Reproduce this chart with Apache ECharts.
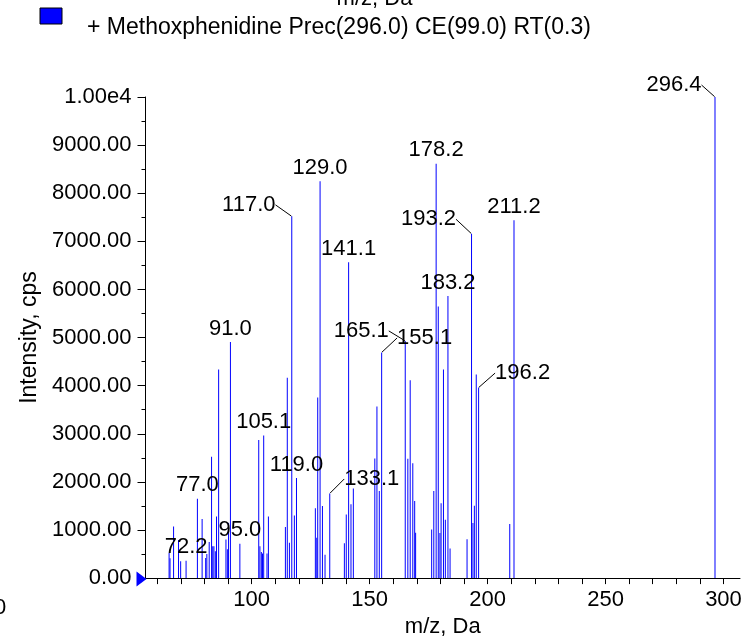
<!DOCTYPE html>
<html><head><meta charset="utf-8">
<script src="https://cdn.jsdelivr.net/npm/echarts@6/dist/echarts.min.js"></script>
<style>html,body{margin:0;padding:0;background:#fff}#c{width:749px;height:643px}</style>
</head><body><div id="c"></div>
<script>
const seriesName = '+ Methoxphenidine Prec(296.0) CE(99.0) RT(0.3)';
const axisTitle = 'm/z, Da';
const yTitle = 'Intensity, cps';

const mzValues = [
  65.0, 65.4, 66.9, 69.0, 69.9, 72.2, 77.0, 79.0, 80.5, 81.0, 82.0, 83.0, 83.5, 84.0, 84.6, 85.1, 86.0,
  89.1, 89.7, 90.2, 91.0, 95.0, 103.0, 103.5, 104.1, 104.6, 105.1, 106.5, 107.1,
  114.3, 115.1, 116.0, 117.0, 118.1, 119.0, 127.0, 127.6, 128.0, 129.0, 130.0, 131.1, 133.1,
  139.3, 140.1, 141.1, 142.1, 143.1, 152.2, 153.1, 154.1, 155.1,
  165.1, 166.2, 167.2, 168.3, 169.1, 169.5, 176.3, 177.2, 178.2, 179.1, 179.8, 180.3, 181.3, 182.1, 183.2, 184.1,
  191.3, 193.2, 193.8, 194.4, 195.2, 196.2, 209.4, 211.2, 296.4
];
const intensities = [
  520, 410, 1070, 790, 350, 360, 1650, 1230, 420, 500, 750, 2520, 660, 660, 560, 1280, 4335,
  800, 600, 1145, 4905, 716, 2870, 660, 540, 510, 2965, 511, 1281,
  1063, 4165, 736, 7519, 1302, 2079, 1450, 840, 3756, 8248, 1500, 484, 1759,
  722, 1320, 6564, 1534, 1861, 2488, 3565, 1813, 4690,
  4930, 2480, 4110, 2386, 1605, 945, 1009, 1813, 8610, 5644, 935, 1554, 4335, 1213, 5862, 613,
  805, 7157, 1145, 1506, 4233, 3960, 1125, 7440, 10000
];
const labeledMz = [72.2, 77.0, 91.0, 95.0, 105.1, 117.0, 119.0, 129.0, 133.1, 141.1, 155.1, 165.1, 178.2, 183.2, 193.2, 196.2, 211.2, 296.4];

const xTickValues = [60,70,80,90,100,110,120,130,140,150,160,170,180,190,200,210,220,230,240,250,260,270,280,290,300];
const xLabelValues = [100, 150, 200, 250, 300];
const xRange = [55, 307];
const yRange = [0, 10000];
const yInterval = 1000;

// label shifts (pixels) for labels drawn with a leader line
const labelShift = {
  '117.0': [-43, 2], '193.2': [-43, -1], '165.1': [-44, 3.5], '155.1': [43, -1],
  '196.2': [44, -1], '133.1': [42, -1], '296.4': [-41, 1.5]
};

const font = "'Liberation Sans', Arial, sans-serif";
const chart = echarts.init(document.getElementById('c'), null, {renderer: 'canvas'});

const barData = mzValues.map((m, i) => [m, intensities[i]]);
const labelData = labeledMz.map(m => {
  const i = mzValues.indexOf(m);
  const key = m.toFixed(1);
  const item = {value: [m, intensities[i]], name: key};
  if (labelShift[key]) item.labelLine = {show: true};
  return item;
});

const option = {
  animation: false,
  textStyle: {fontFamily: font},
  grid: {left: 145.5, right: 9, top: 97, bottom: 57, containLabel: false},
  graphic: [
    {type: 'text', left: 'center', top: -12, style: {text: axisTitle, font: '22px ' + font, fill: '#000'}},
    {type: 'rect', shape: {x: 40, y: 8, width: 22, height: 16}, style: {fill: '#0000ff', stroke: '#000', lineWidth: 1}},
    {type: 'text', x: 87, y: 28, style: {text: seriesName, font: '23px ' + font, fill: '#000', verticalAlign: 'middle'}},
    {type: 'text', x: 0, y: 608, style: {text: '0', font: '22px ' + font, fill: '#000', align: 'center', verticalAlign: 'middle'}}
  ],
  xAxis: {
    type: 'value', min: xRange[0], max: xRange[1],
    name: axisTitle, nameLocation: 'middle', nameGap: 31,
    nameTextStyle: {fontSize: 22, color: '#000', fontFamily: font},
    axisLine: {show: true, lineStyle: {color: '#000', width: 1}},
    axisTick: {show: true, customValues: xTickValues, length: 6, lineStyle: {color: '#000'}},
    axisLabel: {customValues: xLabelValues, margin: 11, fontSize: 22, color: '#000', fontFamily: font},
    splitLine: {show: false}
  },
  yAxis: {
    type: 'value', min: yRange[0], max: yRange[1], interval: yInterval,
    name: yTitle, nameLocation: 'middle', nameGap: 97,
    nameTextStyle: {fontSize: 23, color: '#000', fontFamily: font},
    axisLine: {show: true, lineStyle: {color: '#000', width: 1}},
    axisTick: {show: true, length: 8, lineStyle: {color: '#000'}},
    minorTick: {show: true, splitNumber: 2, length: 4, lineStyle: {color: '#000'}},
    axisLabel: {margin: 14, fontSize: 22, color: '#000', fontFamily: font,
      formatter: v => v >= 10000 ? (v / 10000).toFixed(2) + 'e4' : v.toFixed(2)},
    splitLine: {show: false}
  },
  series: [
    {
      type: 'bar', name: seriesName, data: barData, barWidth: 1,
      itemStyle: {color: '#0000ff'},
      markPoint: {
        symbol: 'triangle', symbolSize: [15, 10], symbolRotate: -90, symbolOffset: [-4, 1],
        itemStyle: {color: '#0000ff'}, label: {show: false},
        data: [{coord: [xRange[0], yRange[0]]}]
      }
    },
    {
      type: 'scatter', data: labelData, symbolSize: 1,
      itemStyle: {color: 'rgba(0,0,0,0)'},
      label: {show: true, position: 'top', distance: 2, fontSize: 22, color: '#000000', opacity: 1,
        textBorderWidth: 0, fontFamily: font, formatter: p => p.name},
      labelLine: {show: false, lineStyle: {color: '#000', width: 1, opacity: 1}},
      labelLayout: p => {
        const s = labelShift[labelData[p.dataIndex].name];
        return s ? {dx: s[0], dy: s[1]} : {};
      },
      z: 5
    }
  ]
};
chart.setOption(option);
</script>
</body></html>
